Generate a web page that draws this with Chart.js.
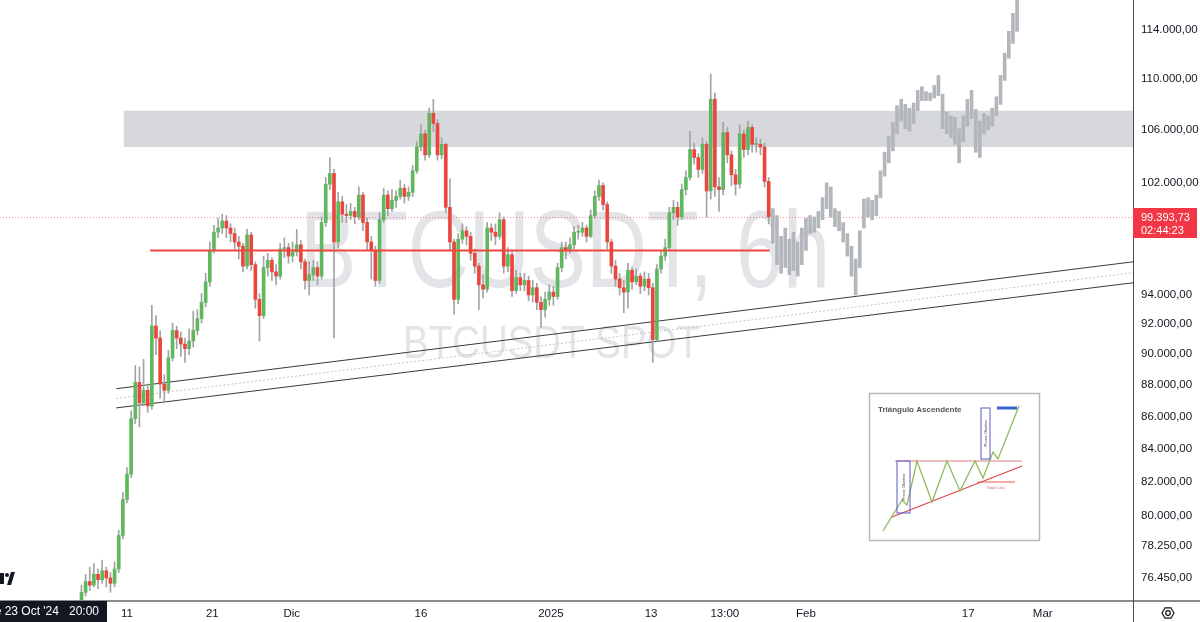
<!DOCTYPE html>
<html>
<head>
<meta charset="utf-8">
<script src="https://cdn.jsdelivr.net/npm/chart.js@4.4.1/dist/chart.umd.min.js"></script>
<style>
  html, body { margin: 0; padding: 0; background: #fff; }
  #wrap { width: 1200px; height: 622px; position: relative; }
</style>
</head>
<body>
<div id="wrap"><canvas id="chart"></canvas></div>
<script>
// x values are days since 1 Nov 2024, one candle every 12h
const firstDay = 4.5;
const step = 0.5;
const firstOpen = 75000;

const closes = [
  75600,76200,76000,76600,76300,76800,76400,76100,76900,
  78800,80900,82400,85800,88100,86800,87600,86600,
  91800,91000,88000,87600,89700,91500,91000,90600,90300,90800,91500,92300,93400,94800,
  97000,98300,98600,99100,98600,98200,97600,97300,95900,98100,96000,93600,92500,
  95800,96300,95500,95200,97100,97200,96600,96900,97400,96200,94900,95300,95800,95200,
  99000,101800,102600,97600,100500,99600,99500,99800,99400,101000,99000,97600,97000,94900,
  99200,101000,100000,100600,100900,101500,100900,101200,102800,104600,105600,104000,107200,106400,104000,104800,100100,
  97600,93600,97800,98400,98000,96800,95900,94600,94300,98600,98300,98000,99200,
  95900,96700,94200,95100,94600,94900,93900,94400,93400,92900,93600,94100,93800,95800,97200,97000,97400,98300,98300,98600,98000,
  99500,100900,101700,100300,97600,95900,95000,94400,94100,95600,94800,95200,94500,95000,94400,
  90900,95700,96600,97200,99700,100100,99400,101400,102300,104400,103800,102900,104800,101300,
  108300,101600,101400,105700,104000,102500,101800,105600,104400,106100,104800,104800,104600,102000,99400
];
const highs = [
  76000,76600,77000,77200,76900,77400,77000,76700,77300,
  79100,81300,82800,86300,89200,89100,89600,88000,
  93200,92500,91500,88600,90200,92000,91800,91400,91000,91600,92800,92900,94000,95400,
  97600,98800,99300,99600,99500,98900,98600,98000,97500,98500,98300,96200,94000,
  96600,96800,96500,96000,97500,97900,97500,97600,98500,97700,96400,96200,96300,96200,
  99400,102300,103800,102900,101200,100900,100300,100400,100100,101600,101200,99300,98000,97300,
  99700,101500,101300,101400,101300,102100,101800,101600,103200,105000,106300,105900,107600,108300,106700,105300,104900,
  102200,97800,98200,98900,98700,98300,97100,96100,95300,99000,98900,98900,99700,
  99400,97200,96900,95600,95400,95400,95200,94900,94700,93800,94100,94600,94500,96100,97600,97600,97900,98700,98800,99000,98800,
  99900,101300,102100,101900,100500,97800,96300,95400,94900,96100,95800,95700,95400,95500,95400,
  94700,96000,97000,97800,100100,100600,100500,101800,102800,105800,104900,104100,105300,105000,
  110300,108800,102300,106500,106100,104300,102900,106300,105900,106600,106300,105300,105200,104900,102300
];
const lows = [
  74800,75400,75700,75900,75800,76100,75900,75600,75900,
  76700,78600,80700,82200,85500,85300,86600,86200,
  86400,89900,87100,86800,87400,89500,90300,89800,89400,89900,90400,91200,92000,93100,
  94500,96800,97900,98200,97900,97600,97100,96400,95500,95700,95600,93000,90800,
  92300,95200,94900,94600,95000,96500,96100,96200,96600,95700,94300,93900,94900,94600,
  95000,98700,101400,91000,97200,99000,99000,99200,98900,99200,98400,97000,95000,94500,
  94700,99000,99500,99800,100100,100700,100400,100600,100900,102600,104300,103600,103800,105800,103600,103700,99700,
  97000,92600,93300,97500,97400,96300,95400,92900,93700,94100,97700,97400,97800,
  95400,95500,93800,94000,94200,94200,93500,93400,92900,91700,92400,93200,93200,93600,95500,96400,96800,97100,97800,98000,97600,
  97900,99300,100600,99900,97100,95400,94500,93900,92700,93000,94300,94600,94000,94200,93900,
  89400,90800,95400,96300,97000,99200,98800,99200,101000,102100,103300,102300,102600,99400,
  100700,100900,99800,101000,103400,101700,101000,101500,103800,104000,104200,104200,104000,101600,98900
];

// grey projected path after the last candle
const projLow = [
  97500,96000,95400,95800,95300,95600,95200,96000,97000,98200,98300,98600,99200,100000,99400,
  98700,98400,97600,96600,95200,93900,95800,98600,99400,99200,99500,100800,102400,103400,104300,
  105600,106600,106000,105800,106400,107400,108200,108200,108200,108400,108600,106000,105600,105300,104800,
  103400,105000,106200,106800,104200,103800,105600,105900,106200,107000,107900,109800,111600,112800,113800
];
const projHigh = [
  100000,99500,98000,98600,97800,98300,97600,98600,99300,99500,99400,99800,100800,101900,101600,
  100000,99800,99000,98200,97300,96400,98400,100700,100800,100600,101000,102800,104200,105400,106500,
  107800,108300,107900,107600,108000,109000,109300,108900,108800,109400,110200,108700,107300,107000,106900,
  106000,107000,108300,109000,107500,106600,107200,107000,107600,108500,110200,112000,113800,115300,117000
];

const lastPrice = 99393.73;
const countdown = "02:44:23";

const zoneLow = 104600, zoneHigh = 107400, zoneStart = 9.6;
const resistance = 97000, resStart = 12.8, resEnd = 87.6;
const trendUpper = [[8.7, 87700], [131.5, 96200]];
const trendMid = [[8.7, 87080], [131.5, 95440]];
const trendLower = [[8.7, 86480], [131.5, 94740]];

const xMin = -5.34, xMax = 131.5;
const yMin = 75180, yMax = 116430;
const xTickDays = [10, 20.3, 29.9, 45.5, 61.2, 73.3, 82.2, 92.0, 111.6, 120.6];
const xTickLabels = ["11", "21", "Dic", "16", "2025", "13", "13:00", "Feb", "17", "Mar"];
const yTicks = [76450, 78250, 80000, 82000, 84000, 86000, 88000, 90000, 92000, 94000, 102000, 106000, 110000, 114000];

const UP = "#5fb760", DOWN = "#e8463f", WICK = "#a3a3a3", PROJ = "#b3b6bb";
const FONT = "Liberation Sans";

function fmt(v) {
  const parts = v.toFixed(2).split(".");
  return parts[0].replace(/\B(?=(\d{3})+(?!\d))/g, ".") + "," + parts[1];
}

let bodies = [], wicks = [], colors = [], proj = [];
let open = firstOpen;
closes.forEach((c, i) => {
  const x = firstDay + i * step;
  bodies.push({ x: x, y: [open, c] });
  wicks.push({ x: x, y: [lows[i], highs[i]] });
  colors.push(c >= open ? UP : DOWN);
  open = c;
});
projLow.forEach((lo, i) => {
  proj.push({ x: firstDay + (closes.length + i) * step, y: [lo, projHigh[i]] });
});

const pts = arr => arr.map(p => ({ x: p[0], y: p[1] }));

function noPad(s) {
  s.paddingTop = 0; s.paddingBottom = 0; s.paddingLeft = 0; s.paddingRight = 0;
}

const backdrop = {
  id: "backdrop",
  beforeDatasetsDraw(chart) {
    const ctx = chart.ctx, a = chart.chartArea;
    const xs = chart.scales.x, ys = chart.scales.y;
    ctx.save();
    ctx.beginPath();
    ctx.rect(a.left, a.top, a.right - a.left, a.bottom - a.top);
    ctx.clip();

    // watermark
    ctx.fillStyle = "#e3e4e7";
    ctx.textAlign = "left";
    ctx.textBaseline = "alphabetic";
    ctx.font = "110px " + FONT;
    let w = ctx.measureText("BTCUSDT, 6h").width;
    ctx.save();
    ctx.translate(300, 287);
    ctx.scale(530 / w, 1);
    ctx.fillText("BTCUSDT, 6h", 0, 0);
    ctx.restore();
    ctx.font = "46px " + FONT;
    w = ctx.measureText("BTCUSDT SPOT").width;
    ctx.save();
    ctx.translate(403, 358);
    ctx.scale(297 / w, 1);
    ctx.fillText("BTCUSDT SPOT", 0, 0);
    ctx.restore();

    // resistance zone
    const zx = xs.getPixelForValue(zoneStart);
    const zt = ys.getPixelForValue(zoneHigh), zb = ys.getPixelForValue(zoneLow);
    ctx.fillStyle = "#d7d8dc";
    ctx.fillRect(zx, zt, a.right - zx, zb - zt);

    // last price line
    const py = Math.round(ys.getPixelForValue(lastPrice)) + 0.5;
    ctx.strokeStyle = "rgba(242,54,69,0.55)";
    ctx.lineWidth = 1;
    ctx.setLineDash([1, 2]);
    ctx.beginPath();
    ctx.moveTo(a.left, py);
    ctx.lineTo(a.right, py);
    ctx.stroke();
    ctx.restore();
  }
};

function drawInset(ctx, ox, oy) {
  ctx.save();
  ctx.translate(ox, oy);
  ctx.textAlign = "left";
  ctx.fillStyle = "#fff";
  ctx.fillRect(0, 0, 170, 147);
  ctx.strokeStyle = "#b8b8b8";
  ctx.lineWidth = 1.5;
  ctx.strokeRect(0.5, 0.5, 170, 147);
  ctx.fillStyle = "#555";
  ctx.font = "bold 8px " + FONT;
  ctx.textBaseline = "middle";
  ctx.fillText("Triángulo Ascendente", 9, 17);

  ctx.strokeStyle = "#e08080";
  ctx.lineWidth = 1.2;
  ctx.beginPath(); ctx.moveTo(26, 68); ctx.lineTo(153, 68); ctx.stroke();
  ctx.strokeStyle = "#d44";
  ctx.beginPath(); ctx.moveTo(23, 124); ctx.lineTo(153, 73); ctx.stroke();
  ctx.strokeStyle = "#e55";
  ctx.beginPath(); ctx.moveTo(108, 89); ctx.lineTo(146, 89); ctx.stroke();
  ctx.fillStyle = "#d66";
  ctx.font = "4px " + FONT;
  ctx.fillText("Stop Loss", 118, 95);

  const zig = [[14,138],[33,107],[38,112],[48,68],[63,109],[78,68],[91,98],[106,68],[114,85],[124,59],[129,66],[150,13]];
  ctx.strokeStyle = "#8dbb5e";
  ctx.lineWidth = 1.3;
  ctx.beginPath();
  zig.forEach((p, i) => i ? ctx.lineTo(p[0], p[1]) : ctx.moveTo(p[0], p[1]));
  ctx.stroke();

  ctx.strokeStyle = "#5a5ac8";
  ctx.lineWidth = 1;
  ctx.strokeRect(28, 68, 13, 52);
  ctx.strokeRect(112, 15, 9, 51);
  ctx.strokeStyle = "#3a62cc";
  ctx.lineWidth = 3;
  ctx.beginPath(); ctx.moveTo(128, 15); ctx.lineTo(148, 15); ctx.stroke();
  ctx.fillStyle = "#444";
  ctx.font = "4px " + FONT;
  ctx.textAlign = "center";
  [[34.5, 94], [116.5, 40]].forEach(p => {
    ctx.save();
    ctx.translate(p[0], p[1]);
    ctx.rotate(-Math.PI / 2);
    ctx.fillText("Precio Objetivo", 0, 0);
    ctx.restore();
  });
  ctx.restore();
}

const overlay = {
  id: "overlay",
  afterDraw(chart) {
    const ctx = chart.ctx, a = chart.chartArea;
    const ys = chart.scales.y;
    ctx.save();

    // frame lines
    ctx.strokeStyle = "#8c8c8c";
    ctx.lineWidth = 2;
    ctx.beginPath(); ctx.moveTo(0, a.bottom + 1); ctx.lineTo(1200, a.bottom + 1); ctx.stroke();
    ctx.strokeStyle = "#4a4a4a";
    ctx.lineWidth = 1;
    ctx.beginPath(); ctx.moveTo(a.right + 0.5, 0); ctx.lineTo(a.right + 0.5, 622); ctx.stroke();

    // last price label
    const py = ys.getPixelForValue(lastPrice);
    ctx.fillStyle = "#f23645";
    ctx.fillRect(a.right, py - 9, 64, 30);
    ctx.fillStyle = "#fff";
    ctx.font = "11px " + FONT;
    ctx.textBaseline = "middle";
    ctx.textAlign = "left";
    ctx.fillText(fmt(lastPrice), a.right + 8, py + 1);
    ctx.fillText(countdown, a.right + 8, py + 14);

    // crosshair date label
    ctx.fillStyle = "#131722";
    ctx.fillRect(0, a.bottom + 1, 107, 21);
    ctx.fillStyle = "#fff";
    ctx.font = "12px " + FONT;
    ctx.textAlign = "right";
    ctx.fillText("mié 23 Oct '24   20:00", 99, a.bottom + 12);

    // logo
    ctx.fillStyle = "#131722";
    ctx.fillRect(0, 573, 4, 11);
    ctx.beginPath(); ctx.arc(7, 575, 2, 0, Math.PI * 2); ctx.fill();
    ctx.beginPath();
    ctx.moveTo(7, 585); ctx.lineTo(11, 572); ctx.lineTo(15, 572); ctx.lineTo(11, 585);
    ctx.closePath(); ctx.fill();

    // settings icon
    ctx.strokeStyle = "#131722";
    ctx.lineWidth = 1.2;
    ctx.beginPath();
    for (let k = 0; k < 6; k++) {
      const ang = Math.PI / 3 * k;
      const x = 1168 + 6 * Math.cos(ang), y = 613 + 6 * Math.sin(ang);
      k ? ctx.lineTo(x, y) : ctx.moveTo(x, y);
    }
    ctx.closePath(); ctx.stroke();
    ctx.beginPath(); ctx.arc(1168, 613, 2.3, 0, Math.PI * 2); ctx.stroke();

    drawInset(ctx, 869, 393);
    ctx.restore();
  }
};

new Chart(document.getElementById("chart"), {
  type: "bar",
  data: {
    datasets: [
      { type: "line", data: pts(trendUpper), borderColor: "#3a3a3a", borderWidth: 1, pointRadius: 0, order: 6 },
      { type: "line", data: pts(trendMid), borderColor: "#c4c4c4", borderWidth: 1, borderDash: [2, 2], pointRadius: 0, order: 6 },
      { type: "line", data: pts(trendLower), borderColor: "#3a3a3a", borderWidth: 1, pointRadius: 0, order: 6 },
      { data: wicks, backgroundColor: WICK, barThickness: 1, grouped: false, order: 5 },
      { data: bodies, backgroundColor: colors, barThickness: 3, minBarLength: 1, grouped: false, order: 4 },
      { data: proj, backgroundColor: PROJ, barThickness: 3, grouped: false, order: 4 },
      { type: "line", data: [{ x: resStart, y: resistance }, { x: resEnd, y: resistance }], borderColor: "#f0463c", borderWidth: 2, pointRadius: 0, order: 1 }
    ]
  },
  options: {
    responsive: true,
    maintainAspectRatio: false,
    animation: false,
    layout: { padding: 0 },
    plugins: { legend: { display: false }, tooltip: { enabled: false } },
    scales: {
      x: {
        type: "linear", min: xMin, max: xMax, offset: false, bounds: "data",
        grid: { display: false, tickLength: 0 }, border: { display: false },
        afterBuildTicks: s => { s.ticks = xTickDays.map(v => ({ value: v })); },
        afterFit: s => { s.height = 22; noPad(s); },
        ticks: {
          autoSkip: false, maxRotation: 0, padding: 7, color: "#131722",
          font: { family: FONT, size: 11.5 },
          callback: (v, i) => xTickLabels[i]
        }
      },
      y: {
        type: "logarithmic", position: "right", min: yMin, max: yMax, bounds: "data",
        grid: { display: false, tickLength: 0 }, border: { display: false },
        afterBuildTicks: s => { s.ticks = yTicks.map(v => ({ value: v })); },
        afterFit: s => { s.width = 67; noPad(s); },
        ticks: {
          autoSkip: false, padding: 8, labelOffset: 1, color: "#131722",
          font: { family: FONT, size: 11.5 },
          callback: v => fmt(v)
        }
      }
    }
  },
  plugins: [backdrop, overlay]
});
</script>
</body>
</html>
